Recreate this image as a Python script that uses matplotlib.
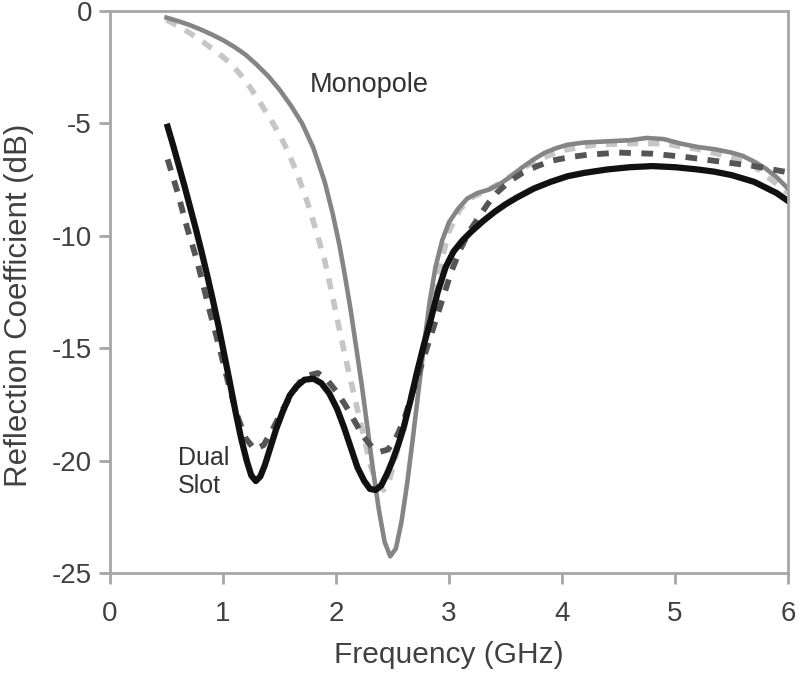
import matplotlib
matplotlib.use("Agg")
import matplotlib.pyplot as plt

plt.rcParams['font.family'] = ['Liberation Sans', 'DejaVu Sans']
plt.rcParams['axes.unicode_minus'] = False

# monopole, measured (gray solid)
mono_meas_f = [0.50, 0.60, 0.70, 0.80, 0.90, 1.00, 1.10, 1.20, 1.30, 1.40, 1.50, 1.60, 1.70, 1.80,
               1.90, 1.97, 2.03, 2.08, 2.13, 2.18, 2.23, 2.28, 2.33, 2.38, 2.43, 2.48, 2.53, 2.58,
               2.63, 2.68, 2.73, 2.78, 2.83, 2.88, 2.94, 3.00, 3.08, 3.16, 3.25, 3.35, 3.45, 3.55,
               3.65, 3.75, 3.85, 3.95, 4.05, 4.20, 4.40, 4.60, 4.75, 4.90, 5.05, 5.20, 5.35, 5.50,
               5.60, 5.70, 5.80, 5.90, 6.00]
mono_meas_db = [-0.30, -0.45, -0.62, -0.82, -1.05, -1.30, -1.60, -1.95, -2.40, -2.90, -3.50, -4.20, -5.00, -6.10,
                -7.60, -9.00, -10.4, -11.8, -13.3, -15.0, -16.7, -18.6, -20.5, -22.2, -23.6, -24.25, -23.9, -22.7,
                -21.0, -19.0, -16.9, -14.8, -12.9, -11.4, -10.2, -9.4, -8.8, -8.35, -8.1, -7.95, -7.7, -7.35,
                -6.95, -6.6, -6.3, -6.1, -5.95, -5.85, -5.8, -5.75, -5.65, -5.7, -5.9, -6.05, -6.15, -6.3,
                -6.45, -6.7, -7.0, -7.4, -7.9]

# monopole, simulated (light dashed)
mono_sim_f = [0.50, 0.65, 0.80, 0.95, 1.06, 1.15, 1.24, 1.33, 1.42, 1.50, 1.58, 1.66, 1.74, 1.82,
              1.90, 1.97, 2.04, 2.11, 2.18, 2.25, 2.31, 2.37, 2.42, 2.47, 2.54, 2.60, 2.67, 2.74,
              2.80, 2.86, 2.93, 3.00, 3.10, 3.20, 3.35, 3.50, 3.65, 3.80, 4.00, 4.30, 4.60, 4.90,
              5.20, 5.50, 5.70, 5.85, 6.00]
mono_sim_db = [-0.40, -0.80, -1.30, -1.85, -2.30, -2.80, -3.40, -4.10, -4.80, -5.50, -6.30, -7.30, -8.40, -9.70,
               -11.1, -12.7, -14.4, -16.0, -17.5, -19.0, -20.3, -21.1, -21.3, -20.9, -19.6, -18.4, -17.0, -15.6,
               -14.3, -12.9, -11.2, -9.8, -8.8, -8.3, -7.95, -7.5, -7.0, -6.6, -6.2, -5.95, -5.9, -5.9,
               -6.15, -6.5, -6.9, -7.5, -8.1]

# dual slot, measured (black solid)
slot_meas_f = [0.51, 0.56, 0.61, 0.66, 0.71, 0.76, 0.81, 0.86, 0.91, 0.96, 1.01, 1.06, 1.11, 1.16,
               1.21, 1.25, 1.29, 1.33, 1.37, 1.42, 1.47, 1.53, 1.59, 1.65, 1.72, 1.80, 1.87, 1.94,
               2.01, 2.07, 2.13, 2.19, 2.25, 2.30, 2.35, 2.40, 2.45, 2.50, 2.55, 2.60, 2.66, 2.72,
               2.78, 2.84, 2.90, 2.97, 3.04, 3.12, 3.20, 3.30, 3.40, 3.50, 3.60, 3.75, 3.90, 4.05,
               4.20, 4.40, 4.60, 4.80, 5.00, 5.20, 5.35, 5.50, 5.60, 5.70, 5.80, 5.90, 6.00]
slot_meas_db = [-5.15, -6.0, -6.9, -7.8, -8.75, -9.7, -10.7, -11.75, -12.85, -14.0, -15.25, -16.5, -17.8, -19.0,
                -20.0, -20.65, -20.9, -20.7, -20.2, -19.4, -18.6, -17.8, -17.1, -16.7, -16.4, -16.35, -16.55, -17.0,
                -17.7, -18.5, -19.4, -20.3, -20.9, -21.25, -21.3, -21.1, -20.6, -20.0, -19.3, -18.5, -17.3, -16.0,
                -14.8, -13.7, -12.5, -11.4, -10.7, -10.2, -9.8, -9.35, -8.95, -8.6, -8.3, -7.9, -7.6, -7.35,
                -7.2, -7.05, -6.95, -6.9, -6.95, -7.05, -7.15, -7.3, -7.45, -7.6, -7.85, -8.1, -8.45]

# dual slot, simulated (dark dashed)
slot_sim_f = [0.51, 0.60, 0.68, 0.77, 0.88, 0.97, 1.05, 1.12, 1.20, 1.28, 1.36, 1.44, 1.52, 1.60,
              1.68, 1.76, 1.84, 1.92, 2.00, 2.08, 2.16, 2.24, 2.32, 2.39, 2.46, 2.53, 2.60, 2.67,
              2.74, 2.81, 2.88, 2.95, 3.02, 3.10, 3.18, 3.26, 3.34, 3.42, 3.53, 3.65, 3.78, 3.92,
              4.07, 4.22, 4.50, 4.80, 5.10, 5.40, 5.70, 5.97]
slot_sim_db = [-6.6, -8.1, -9.6, -11.1, -13.3, -15.0, -16.6, -17.9, -19.0, -19.5, -19.3, -18.6, -17.8, -17.1,
               -16.5, -16.2, -16.1, -16.4, -16.9, -17.5, -18.2, -18.9, -19.4, -19.6, -19.5, -19.0, -18.2, -17.1,
               -16.0, -14.9, -13.8, -12.7, -11.6, -10.6, -9.8, -9.2, -8.6, -8.1, -7.6, -7.2, -6.9, -6.65,
               -6.5, -6.4, -6.3, -6.35, -6.5, -6.7, -6.9, -7.15]

x_ticks = [0, 1, 2, 3, 4, 5, 6]
y_ticks = [0, -5, -10, -15, -20, -25]

fig = plt.figure(figsize=(8, 6.8), dpi=100)
ax = fig.add_axes([0.1375, 0.157, 0.8475, 0.827])

ax.plot(mono_sim_f, mono_sim_db, color="#c6c6c6", linewidth=4, linestyle=(0, (2, 1.8)),
        dash_capstyle="butt")
ax.plot(mono_meas_f, mono_meas_db, color="#858585", linewidth=3.3)
ax.plot(slot_sim_f, slot_sim_db, color="#555555", linewidth=4.2, linestyle=(0, (2, 1.8)),
        dash_capstyle="butt")
ax.plot(slot_meas_f, slot_meas_db, color="#111111", linewidth=4.5)

ax.text(1.77, -3.3, "Monopole", fontsize=19.5, color="#333333", va="center", ha="left")
ax.text(0.6, -20.5, "Dual\nSlot", fontsize=18, color="#333333", va="center", ha="left",
        linespacing=1.2)

ax.set_xlim(0, 6)
ax.set_ylim(-25, 0)
ax.set_xticks(x_ticks)
ax.set_yticks(y_ticks)

for s in ax.spines.values():
    s.set_color("#a6a6a6")
    s.set_linewidth(2)

ax.tick_params(axis="both", direction="out", length=8, width=2, colors="#a6a6a6",
               labelcolor="#404040", labelsize=20)
ax.tick_params(axis="x", pad=12)
ax.tick_params(axis="y", pad=5)

ax.set_xlabel("Frequency (GHz)", fontsize=21.5, color="#404040", labelpad=10)
ax.set_ylabel("Reflection Coefficient (dB)", fontsize=22.5, color="#404040")
ax.yaxis.set_label_coords(-0.112, 0.477)

fig.savefig("out.png", dpi=100)
